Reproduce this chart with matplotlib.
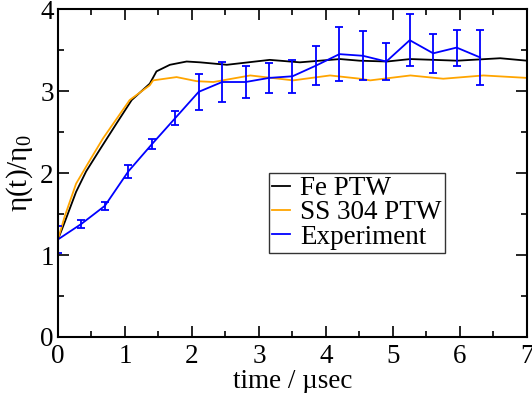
import numpy as np
import matplotlib
matplotlib.use("Agg")
import matplotlib.pyplot as plt
import matplotlib.lines as mlines

# valeurs
t_fe = [0.0, 0.10, 0.27, 0.42, 0.62, 0.87, 1.10, 1.37, 1.47, 1.67, 1.92, 2.12,
        2.52, 3.16, 3.61, 4.21, 4.50, 4.91, 5.26, 5.96, 6.60, 7.0]
eta_fe = [1.19, 1.40, 1.77, 2.02, 2.28, 2.60, 2.89, 3.09, 3.24, 3.32, 3.36, 3.35,
          3.32, 3.38, 3.35, 3.39, 3.37, 3.36, 3.39, 3.37, 3.40, 3.37]

t_ss = [0.0, 0.10, 0.27, 0.45, 0.67, 1.07, 1.37, 1.42, 1.77, 2.07, 2.32, 2.87,
        3.51, 4.06, 4.51, 4.66, 5.26, 5.75, 6.35, 7.0]
eta_ss = [1.19, 1.47, 1.87, 2.12, 2.42, 2.89, 3.07, 3.13, 3.17, 3.12, 3.11, 3.19,
          3.13, 3.19, 3.15, 3.13, 3.19, 3.15, 3.19, 3.16]

t_exp = [0.0, 0.35, 0.70, 1.05, 1.40, 1.75, 2.10, 2.45, 2.80, 3.15, 3.50, 3.85,
         4.20, 4.55, 4.90, 5.25, 5.60, 5.95, 6.30]
eta_exp = [1.19, 1.38, 1.60, 2.02, 2.35, 2.67, 2.99, 3.11, 3.11, 3.16, 3.18, 3.31,
           3.45, 3.43, 3.36, 3.62, 3.46, 3.53, 3.41]
err_exp = [0.16, 0.05, 0.05, 0.075, 0.06, 0.09, 0.22, 0.24, 0.19, 0.185, 0.20, 0.235,
           0.33, 0.30, 0.23, 0.32, 0.235, 0.22, 0.335]

plt.rcParams['font.family'] = ['Liberation Serif', 'DejaVu Serif']
plt.rcParams['mathtext.fontset'] = 'custom'
plt.rcParams['mathtext.rm'] = 'Liberation Serif'

fs = 19.5

fig = plt.figure(figsize=(5.32, 3.93), dpi=100)
ax = fig.add_axes([0.109, 0.1425, 0.8816, 0.8345])

ax.plot(t_fe, eta_fe, color='black', lw=1.3, label='Fe PTW')
ax.plot(t_ss, eta_ss, color='orange', lw=1.3, label='SS 304 PTW')
ax.errorbar(t_exp, eta_exp, yerr=err_exp, color='blue', lw=1.3, elinewidth=1.3,
            capsize=2.6, capthick=1.3, label='Experiment')

ax.set_xlim(0, 7)
ax.set_ylim(0, 4)
ax.set_xticks(np.arange(0, 8, 1))
ax.set_yticks(np.arange(0, 5, 1))
ax.set_xticks(np.arange(0.5, 7, 1), minor=True)
ax.set_yticks(np.arange(0.5, 4, 1), minor=True)
ax.tick_params(which='both', direction='in', top=True, right=True, labelsize=fs, width=1.2)
ax.tick_params(which='major', length=8)
ax.tick_params(which='minor', length=4)
ax.tick_params(axis='x', which='major', pad=5)
ax.tick_params(axis='y', which='major', pad=3)
for s in ax.spines.values():
    s.set_linewidth(1.5)

ax.set_xlabel('time / µsec', fontsize=fs, labelpad=0)
ax.set_ylabel(r'η(t)/η$_\mathrm{0}$', fontsize=21, labelpad=4)

# la légende : seulement les lignes
hs = [mlines.Line2D([], [], color=c, lw=1.3) for c in ['black', 'orange', 'blue']]
leg = ax.legend(hs, ['Fe PTW', 'SS 304 PTW', 'Experiment'], loc='upper left',
                bbox_to_anchor=(0.45, 0.5), borderaxespad=0,
                fontsize=fs, frameon=True, fancybox=False, edgecolor='black',
                handlelength=0.66, handletextpad=0.37, labelspacing=-0.03, borderpad=0.12)
leg.get_frame().set_linewidth(1.0)

fig.savefig('out.png', dpi=100)
